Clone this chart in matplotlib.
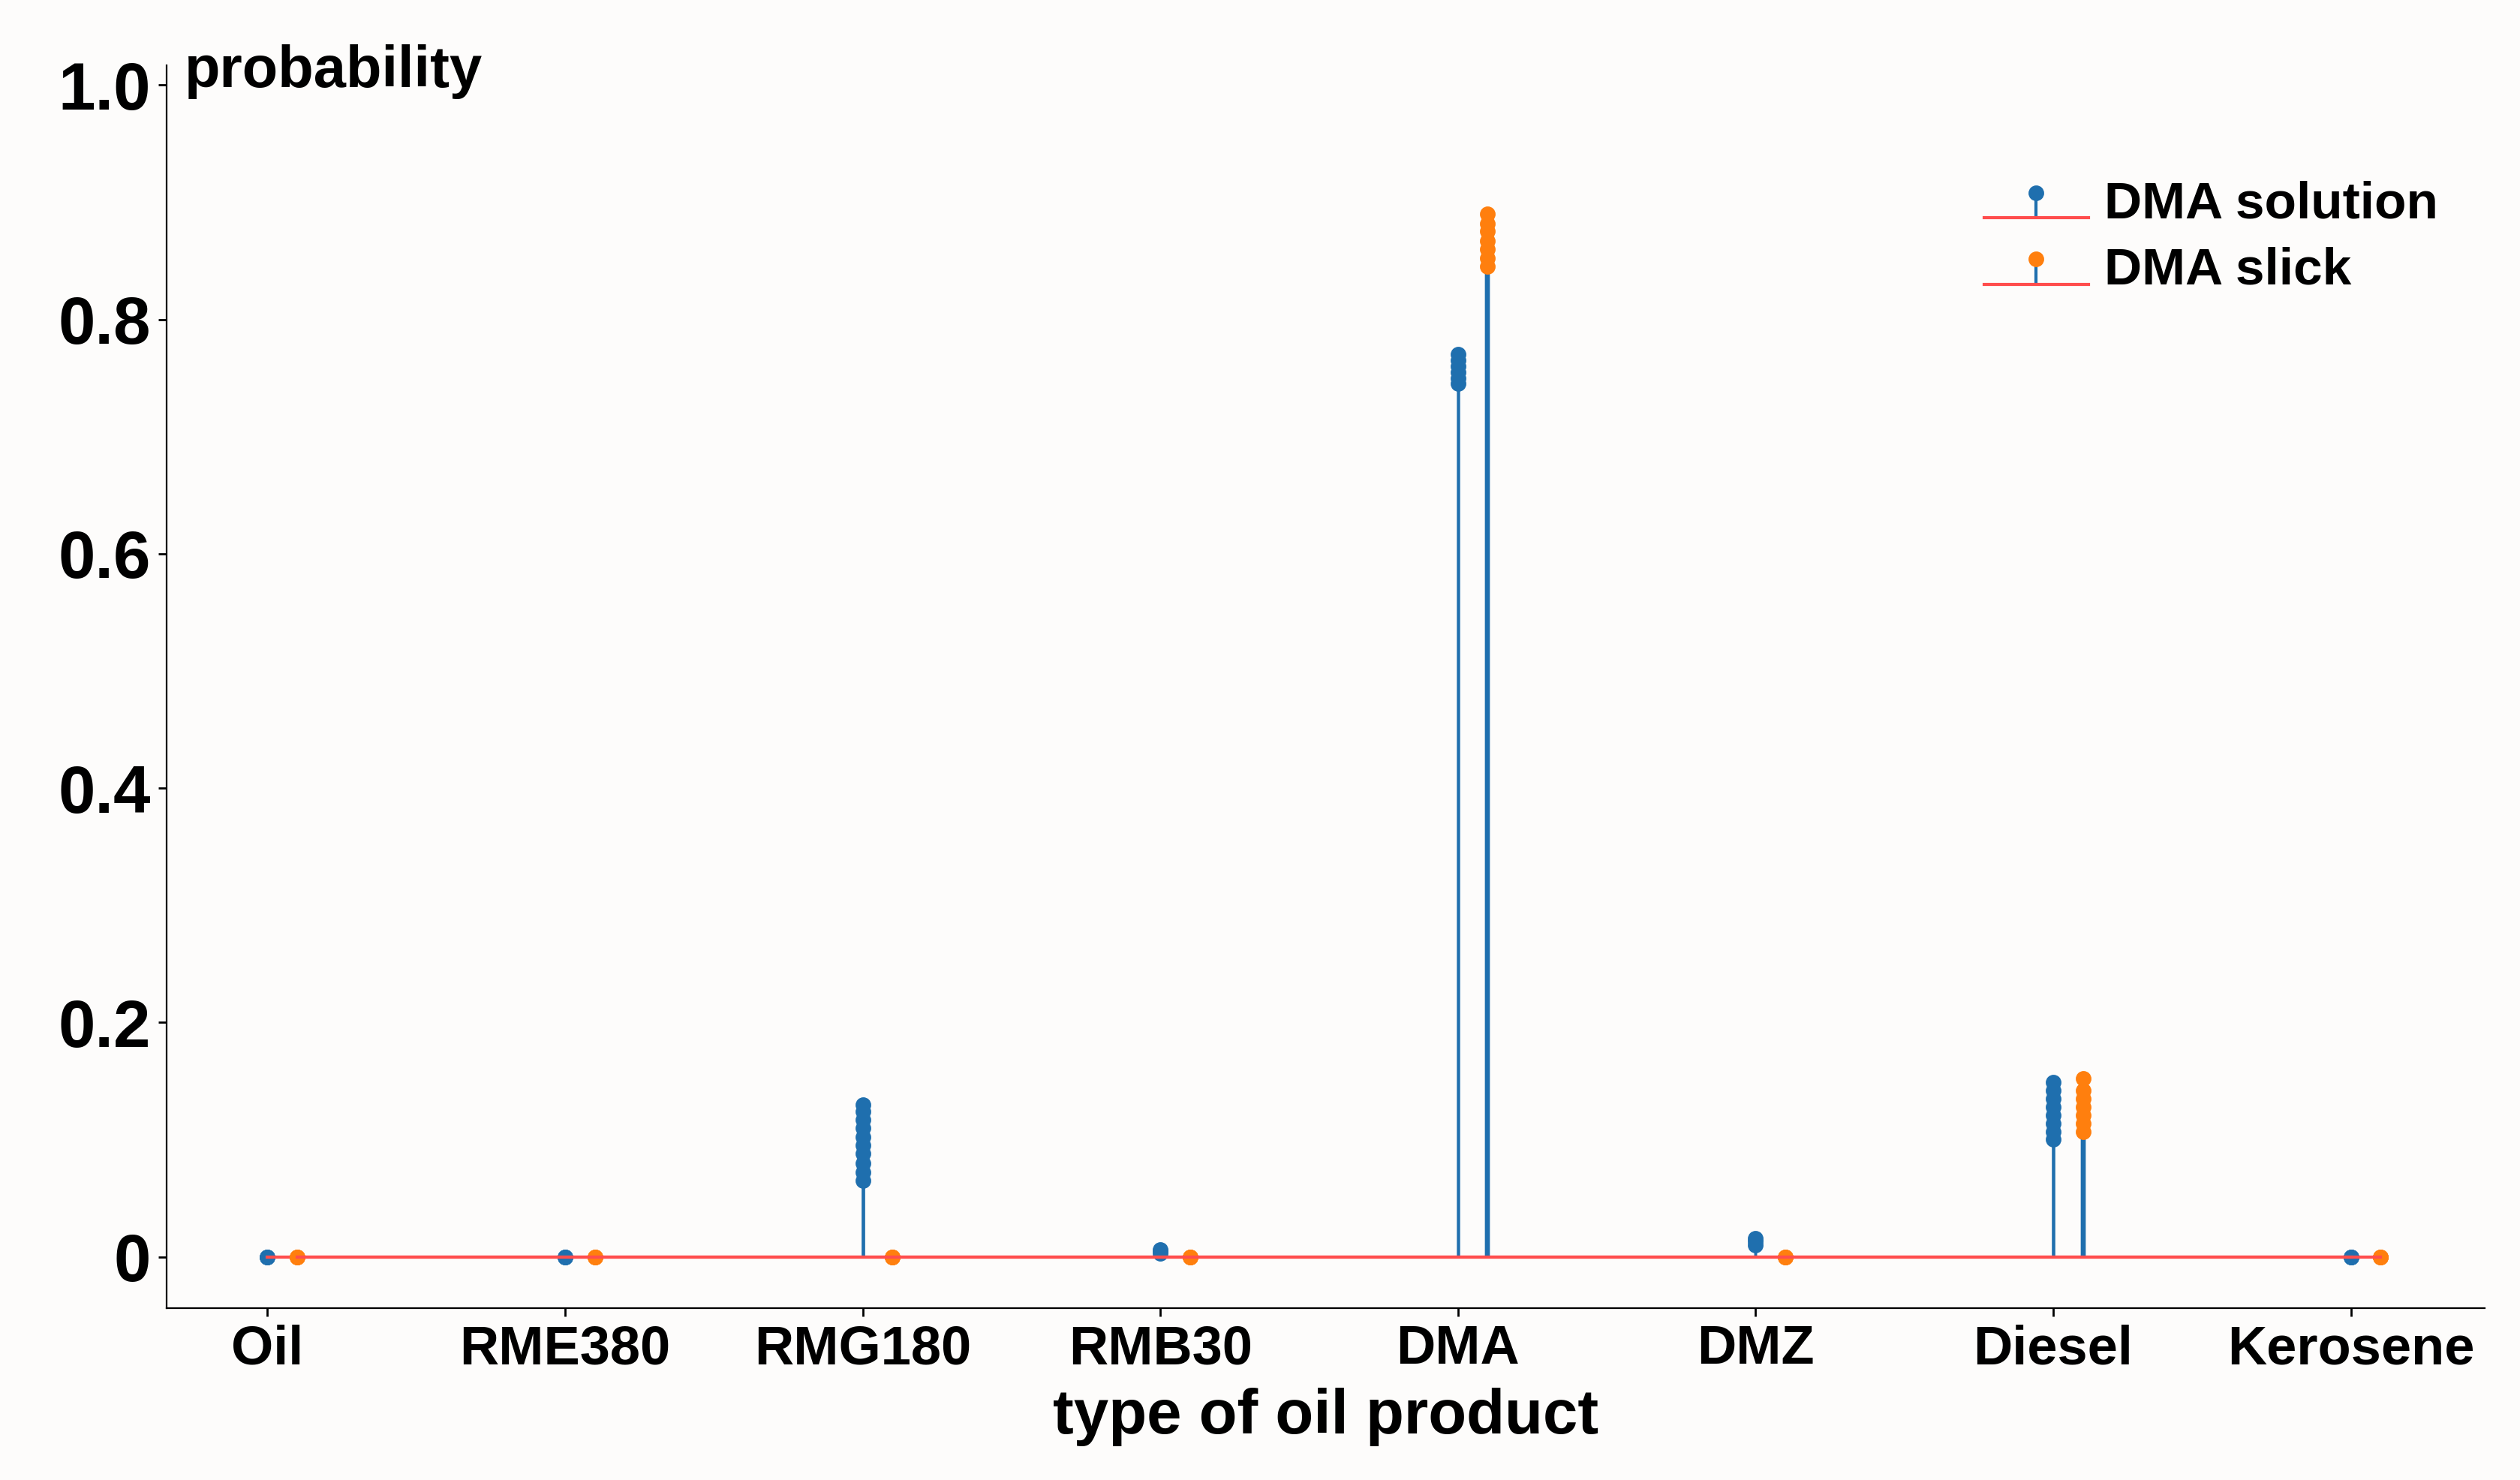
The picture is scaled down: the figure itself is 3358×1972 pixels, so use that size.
import numpy as np
import matplotlib
matplotlib.use("Agg")
import matplotlib.pyplot as plt

plt.rcParams["font.family"] = ["Liberation Sans", "DejaVu Sans"]
plt.rcParams["font.weight"] = "bold"

categories = ["Oil", "RME380", "RMG180", "RMB30", "DMA", "DMZ", "Diesel", "Kerosene"]

solution = {
    "Oil": [0.0, 0.0, 0.0],
    "RME380": [0.0, 0.0, 0.0],
    "RMG180": [0.065, 0.072, 0.08, 0.088, 0.095, 0.102, 0.11, 0.117, 0.124, 0.13],
    "RMB30": [0.003, 0.005, 0.006],
    "DMA": [0.745, 0.75, 0.755, 0.76, 0.765, 0.77],
    "DMZ": [0.01, 0.013, 0.016],
    "Diesel": [0.10, 0.107, 0.114, 0.121, 0.128, 0.135, 0.142, 0.149],
    "Kerosene": [0.0, 0.0, 0.0],
}
slick = {
    "Oil": [0.0, 0.0, 0.0],
    "RME380": [0.0, 0.0, 0.0],
    "RMG180": [0.0, 0.0, 0.0],
    "RMB30": [0.0, 0.0, 0.0],
    "DMA": [0.845, 0.852, 0.86, 0.867, 0.875, 0.882, 0.89],
    "DMZ": [0.0, 0.0, 0.0],
    "Diesel": [0.107, 0.114, 0.121, 0.128, 0.135, 0.142, 0.152],
    "Kerosene": [0.0, 0.0, 0.0],
}

blue = "#1f6fae"
orange = "#ff7f0e"

fig = plt.figure(figsize=(16.79, 9.86), dpi=200, facecolor="#fdfcfb")
ax = fig.add_axes([0.066, 0.116, 0.92, 0.84], facecolor="#fdfcfb")

xs = np.arange(len(categories), dtype=float)
x_sol = np.concatenate([[x] * len(solution[c]) for x, c in zip(xs, categories)])
y_sol = np.concatenate([solution[c] for c in categories])
x_sl = np.concatenate([[x + 0.1] * len(slick[c]) for x, c in zip(xs, categories)])
y_sl = np.concatenate([slick[c] for c in categories])

m, s, b = ax.stem(x_sol, y_sol, basefmt="-", label="DMA solution")
plt.setp(s, color=blue, lw=1.2)
plt.setp(m, color=blue, markersize=6.5)
plt.setp(b, color="#ff4d4d", lw=1.5)
m2, s2, b2 = ax.stem(x_sl, y_sl, basefmt="-", label="DMA slick")
plt.setp(s2, color=blue, lw=2.2)
plt.setp(m2, color=orange, markersize=6.5)
plt.setp(b2, color="#ff4d4d", lw=1.5)

ax.set_xlim(-0.34, 7.45)
ax.set_ylim(-0.044, 1.017)
ax.set_xticks(xs)
ax.set_xticklabels(categories)
ax.set_yticks([0, 0.2, 0.4, 0.6, 0.8, 1.0])
ax.set_yticklabels(["0", "0.2", "0.4", "0.6", "0.8", "1.0"])
ax.tick_params(axis="x", labelsize=26, length=4, width=1)
ax.tick_params(axis="y", labelsize=32, length=4, width=1)
for sp in ["top", "right"]:
    ax.spines[sp].set_visible(False)
ax.set_xlabel("type of oil product", fontsize=30, fontweight="bold", labelpad=6)
ax.text(0.008, 0.995, "probability", transform=ax.transAxes, fontsize=28,
        fontweight="bold", va="center", ha="left")
ax.legend(loc="upper right", bbox_to_anchor=(1.0, 0.945), frameon=False,
          fontsize=25, handlelength=2.0, handletextpad=0.3, labelspacing=0.35)

fig.savefig("out.png", dpi=200, facecolor=fig.get_facecolor())
